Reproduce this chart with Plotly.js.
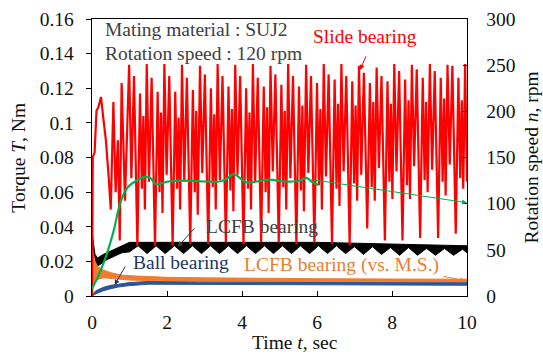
<!DOCTYPE html>
<html><head><meta charset="utf-8">
<script src="https://cdn.plot.ly/plotly-3.0.1.min.js"></script>
<style>html,body{margin:0;padding:0;background:#fff}#c{width:543px;height:355px}</style>
</head><body><div id="c"></div>
<script>
// Slide bearing torque (Nm) - peaks/troughs
const slideT = [0,0.02,0.07,0.12,0.17,0.24,0.30,0.37,0.45,0.50,0.57,0.63,0.69,0.74,0.79,0.88,
0.99,1.05,1.12,1.17,1.21,1.28,1.33,1.37,1.41,
1.46,1.52,1.59,1.64,1.68,1.75,1.80,1.84,1.88,
1.93,1.99,2.06,2.11,2.15,2.22,2.27,2.31,2.35,
2.40,2.46,2.53,2.58,2.62,2.69,2.74,2.78,2.82,
2.88,2.94,3.01,3.06,3.10,3.17,3.22,3.26,3.30,
3.35,3.41,3.48,3.53,3.57,3.64,3.69,3.73,3.77,
3.82,3.88,3.95,4.00,4.04,4.11,4.16,4.20,4.24,
4.29,4.35,4.42,4.47,4.51,4.58,4.63,4.67,4.71,
4.76,4.82,4.89,4.94,4.98,5.05,5.10,5.14,5.18,
5.23,5.29,5.36,5.41,5.45,5.52,5.57,5.61,5.65,
5.71,5.77,5.84,5.89,5.93,6.00,6.05,6.09,6.13,
6.18,6.24,6.31,6.36,6.40,6.47,6.52,6.56,6.60,
6.65,6.71,6.78,6.83,6.87,6.94,6.99,7.03,7.07,
7.12,7.18,7.25,7.30,7.34,7.41,7.46,7.50,7.54,
7.59,7.65,7.72,7.77,7.81,7.88,7.93,7.97,8.01,
8.06,8.12,8.19,8.24,8.28,8.35,8.40,8.44,8.48,
8.53,8.59,8.66,8.71,8.75,8.82,8.87,8.91,8.95,
9.01,9.07,9.14,9.19,9.23,9.30,9.35,9.39,9.43,
9.48,9.54,9.61,9.66,9.70,9.77,9.82,9.86,9.90,
9.95,10.0];
const slideTorque = [0,0.080,0.083,0.107,0.109,0.115,0.103,0.090,0.067,0.050,0.112,0.060,0.090,0.032,0.123,0.055,
0.1335,0.068,0.127,0.075,0.029,0.117,0.062,0.104,0.050,
0.134,0.066,0.126,0.072,0.029,0.118,0.060,0.106,0.048,
0.134,0.070,0.127,0.074,0.029,0.118,0.062,0.103,0.050,
0.1335,0.066,0.126,0.070,0.030,0.119,0.060,0.107,0.047,
0.133,0.071,0.128,0.074,0.030,0.120,0.063,0.105,0.050,
0.134,0.067,0.127,0.072,0.031,0.121,0.061,0.108,0.049,
0.1335,0.070,0.127,0.075,0.030,0.120,0.062,0.106,0.050,
0.134,0.066,0.126,0.071,0.031,0.121,0.060,0.109,0.048,
0.133,0.072,0.128,0.074,0.031,0.122,0.063,0.107,0.050,
0.134,0.068,0.127,0.072,0.030,0.121,0.061,0.110,0.049,
0.1335,0.071,0.127,0.076,0.031,0.123,0.064,0.108,0.050,
0.134,0.069,0.128,0.073,0.030,0.125,0.062,0.111,0.052,
0.134,0.072,0.127,0.076,0.0295,0.124,0.065,0.110,0.055,
0.133,0.070,0.129,0.078,0.039,0.123,0.063,0.112,0.055,
0.132,0.074,0.127,0.077,0.032,0.124,0.066,0.111,0.056,
0.134,0.072,0.130,0.079,0.032,0.125,0.064,0.113,0.056,
0.1335,0.075,0.131,0.080,0.0335,0.126,0.067,0.112,0.060,
0.134,0.073,0.130,0.078,0.0335,0.126,0.066,0.114,0.058,
0.1335,0.076,0.133,0.081,0.036,0.126,0.068,0.113,0.062,
0.134,0.066];

// Rotation speed (rpm)
const speedT = [0,0.16,0.34,0.56,0.78,0.96,1.23,1.40,1.55,1.71,2.03,2.50,3.00,3.40,3.60,3.77,4.00,4.12,4.40,4.74,5.10,5.36,5.55,5.72,5.85,6.03];
const speedRpm = [8,21,39,68,104,118,126,129,128,121,124,125,124,124,127,132,126,123,124,126,124,124,125,128,124,120];

// LCFB bearing torque band (Nm)
const lcfbTopT = [0,0.01,0.04,0.08,0.15,0.30,0.50,0.70,0.90,1.00,2.00,3.00,4.00,5.00,6.00,7.00,8.00,9.00,10.0];
const lcfbTop  = [0,0.036,0.030,0.024,0.022,0.024,0.026,0.028,0.030,0.031,0.031,0.0312,0.031,0.031,0.031,0.0305,0.030,0.0295,0.029];
const lcfbLowT = [0,0.01,0.05,0.10,0.20,0.40,0.60,0.80,1.00,1.23,1.47,1.71,1.95,2.20,2.44,2.68,2.92,3.16,3.40,3.64,3.88,4.12,4.36,4.60,4.84,5.08,5.32,5.56,5.80,6.04,6.28,6.52,6.76,7.00,7.24,7.48,7.72,7.96,8.20,8.44,8.68,8.92,9.16,9.40,9.64,9.88,10.0];
const lcfbLow  = [0,0.025,0.020,0.017,0.018,0.021,0.023,0.025,0.0255,0.029,0.0245,0.029,0.0245,0.029,0.0245,0.029,0.0245,0.029,0.0245,0.029,0.0245,0.029,0.0245,0.029,0.0245,0.029,0.0245,0.029,0.0245,0.029,0.0245,0.029,0.0245,0.0285,0.024,0.0285,0.024,0.028,0.0235,0.028,0.0235,0.0275,0.0235,0.0275,0.0235,0.027,0.025];

// LCFB bearing (vs. M.S.) torque band (Nm)
const msTopT = [0,0.005,0.03,0.08,0.15,0.30,0.50,0.80,1.20,2.00,3.00,4.00,6.00,8.00,10.0];
const msTop  = [0,0.032,0.025,0.020,0.017,0.015,0.0135,0.012,0.0115,0.0108,0.0105,0.0102,0.0100,0.0098,0.0097];
const msLowT = [0,0.03,0.08,0.15,0.30,0.50,1.00,2.00,4.00,6.00,8.00,10.0];
const msLow  = [0,0.005,0.008,0.0095,0.0105,0.0100,0.0092,0.0086,0.0084,0.0082,0.0082,0.0080];

// Ball bearing torque band (Nm)
const ballTopT = [0,0.10,0.30,0.50,0.70,1.00,1.50,2.00,3.00,4.00,6.00,8.00,10.0];
const ballTop  = [0.0005,0.003,0.005,0.0062,0.0068,0.0078,0.0084,0.0082,0.0080,0.0079,0.0078,0.0078,0.0076];
const ballLowT = [0,0.10,0.30,0.50,0.70,1.00,1.50,2.00,4.00,6.00,8.00,10.0];
const ballLow  = [0,0.0012,0.003,0.0042,0.0052,0.0060,0.0068,0.0066,0.0064,0.0064,0.0064,0.0062];

const yTickVals = [0,0.02,0.04,0.06,0.08,0.1,0.12,0.14,0.16];
const yTickText = ['0','0.02','0.04','0.06','0.08','0.1','0.12','0.14','0.16'];
const y2TickVals = [0,50,100,150,200,250,300];
const xTickVals = [0,2,4,6,8,10];

function band(tTop, vTop, tLow, vLow, color){
  return {x: tTop.concat(tLow.slice().reverse()), y: vTop.concat(vLow.slice().reverse()),
    type:'scatter', mode:'lines', fill:'toself', fillcolor:color,
    line:{color:color, width:1}, hoverinfo:'skip', showlegend:false};
}

const traces = [
  band(lcfbTopT, lcfbTop, lcfbLowT, lcfbLow, '#000000'),
  band(msTopT, msTop, msLowT, msLow, '#ED7D31'),
  band(ballTopT, ballTop, ballLowT, ballLow, '#2F5597'),
  {x: slideT, y: slideTorque, type:'scatter', mode:'lines', line:{color:'#FF0000', width:2.2}, showlegend:false},
  {x: speedT, y: speedRpm, type:'scatter', mode:'lines', yaxis:'y2', line:{color:'#00B050', width:2.2, shape:'spline'}, showlegend:false}
];

const F = 'Liberation Serif';
const FS = 19.5;
const tf = {family:F, size:FS, color:'#111'};
function af(c){ return {family:F, size:FS, color:c}; }
const layout = {
  width:543, height:355,
  margin:{l:92, r:76, t:19, b:59},
  paper_bgcolor:'#fff', plot_bgcolor:'#fff',
  font:{family:F, size:FS, color:'#111'},
  showlegend:false,
  xaxis:{range:[0,10], tickvals:xTickVals, ticks:'inside', ticklen:5, tickcolor:'#000', tickfont:tf,
    showline:true, linecolor:'#000', linewidth:1.3, mirror:true, showgrid:false, zeroline:false,
    ticklabelstandoff:8},
  yaxis:{range:[0,0.16], tickvals:yTickVals, ticktext:yTickText, ticks:'outside', ticklen:5, tickcolor:'#000', tickfont:tf,
    showline:true, linecolor:'#000', linewidth:1.3, showgrid:false, zeroline:false, ticklabelstandoff:8},
  yaxis2:{range:[0,300], tickvals:y2TickVals, overlaying:'y', side:'right', ticks:'inside', ticklen:4, tickcolor:'#000', tickfont:tf,
    showline:true, linecolor:'#000', linewidth:1.3, showgrid:false, zeroline:false, ticklabelstandoff:14},
  annotations:[
    {xref:'paper', yref:'paper', x:-0.197, y:0.5, text:'Torque <i>T</i>, Nm', textangle:-90, showarrow:false, xanchor:'center', yanchor:'middle', font:af('#111')},
    {xref:'paper', yref:'paper', x:1.1707, y:0.5, text:'Rotation speed <i>n</i>, rpm', textangle:-90, showarrow:false, xanchor:'center', yanchor:'middle', font:af('#111')},
    {xref:'paper', yref:'paper', x:0.5413, y:-0.213, text:'Time <i>t</i>, sec', showarrow:false, xanchor:'center', yanchor:'bottom', font:af('#111')},
    {xref:'x', yref:'y', x:0.293, y:0.1538, text:'Mating material : SUJ2', showarrow:false, xanchor:'left', yanchor:'middle', font:af('#404040')},
    {xref:'x', yref:'y', x:0.293, y:0.1399, text:'Rotation speed : 120 rpm', showarrow:false, xanchor:'left', yanchor:'middle', font:af('#404040')},
    {xref:'x', yref:'y', x:7.29, y:0.1497, text:'Slide bearing', showarrow:false, xanchor:'center', yanchor:'middle', font:af('#FF0000')},
    {xref:'x', yref:'y', x:7.15, y:0.1306, ax:7.32, ay:0.1393, axref:'x', ayref:'y', text:'', showarrow:true, arrowhead:2, arrowsize:1, arrowwidth:1, arrowcolor:'#FF0000'},
    {xref:'x', yref:'y', x:4.53, y:0.0399, text:'LCFB bearing', showarrow:false, xanchor:'center', yanchor:'middle', font:af('#404040')},
    {xref:'x', yref:'y', x:2.29, y:0.0285, ax:2.77, ay:0.040, axref:'x', ayref:'y', text:'', showarrow:true, arrowhead:2, arrowsize:1, arrowwidth:1, arrowcolor:'#404040'},
    {xref:'x', yref:'y', x:2.37, y:0.0191, text:'Ball bearing', showarrow:false, xanchor:'center', yanchor:'middle', font:af('#203864')},
    {xref:'x', yref:'y', x:0.605, y:0.0064, ax:0.907, ay:0.0179, axref:'x', ayref:'y', text:'', showarrow:true, arrowhead:2, arrowsize:1, arrowwidth:1, arrowcolor:'#203864'},
    {xref:'x', yref:'y', x:6.65, y:0.0179, text:'LCFB bearing (vs. M.S.)', showarrow:false, xanchor:'center', yanchor:'middle', font:af('#ED7D31')},
    {xref:'x', yref:'y', x:9.95, y:0.0087, ax:9.33, ay:0.01156, axref:'x', ayref:'y', text:'', showarrow:true, arrowhead:2, arrowsize:1, arrowwidth:1, arrowcolor:'#ED7D31'},
    {xref:'x', yref:'y', x:10.0, y:0.0539, ax:5.81, ay:0.0674, axref:'x', ayref:'y', text:'', showarrow:true, arrowhead:2, arrowsize:1, arrowwidth:1, arrowcolor:'#00B050'}
  ]
};
Plotly.newPlot('c', traces, layout, {staticPlot:true, displayModeBar:false});
</script></body></html>
